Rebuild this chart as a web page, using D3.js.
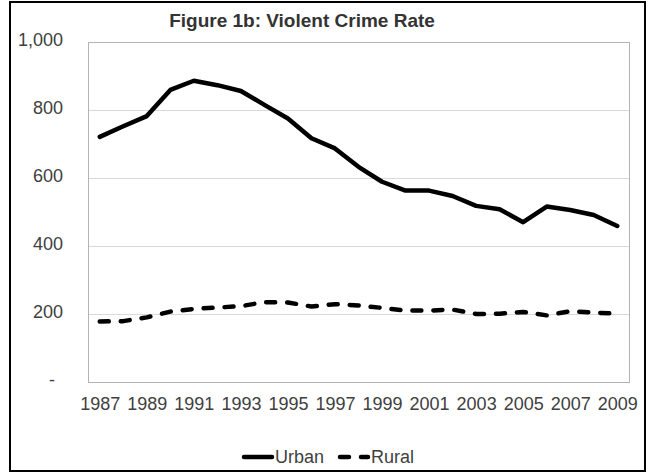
<!DOCTYPE html>
<html>
<head>
<meta charset="utf-8">
<script src="https://cdn.jsdelivr.net/npm/d3@7"></script>
<style>
  html, body { margin: 0; padding: 0; background: #fff; }
  svg { display: block; }
  text { font-family: "Liberation Sans", Arial, sans-serif; }
</style>
</head>
<body>
<svg id="chart" width="648" height="476"></svg>
<script>
// Violent crime rate per 100,000, urban vs rural counties
const years = [1987, 1988, 1989, 1990, 1991, 1992, 1993, 1994, 1995, 1996, 1997, 1998,
               1999, 2000, 2001, 2002, 2003, 2004, 2005, 2006, 2007, 2008, 2009];
const urban = [721, 752, 782, 859, 886, 873, 856, 815, 775, 717, 687, 633,
               589, 563, 563, 547, 518, 508, 470, 516, 506, 491, 459];
const rural = [178, 179, 190, 207, 215, 219, 223, 235, 234, 222, 229, 225,
               218, 210, 210, 213, 200, 201, 206, 196, 208, 204, 201];
const xTickYears = [1987, 1989, 1991, 1993, 1995, 1997, 1999, 2001, 2003, 2005, 2007, 2009];
const yTicks = [0, 200, 400, 600, 800, 1000];
const seriesNames = ["Urban", "Rural"];

const svg = d3.select("#chart");
const plot = { left: 88, right: 629, top: 42, bottom: 382 };

const x = d3.scalePoint().domain(years).range([plot.left, plot.right]).padding(0.5);
const y = d3.scaleLinear().domain([0, 1000]).range([plot.bottom, plot.top]);

// outer chart frame
svg.append("rect")
  .attr("x", 10).attr("y", 2).attr("width", 635).attr("height", 469)
  .attr("fill", "#fff").attr("stroke", "#000").attr("stroke-width", 2);

// horizontal gridlines
svg.append("g")
  .selectAll("line")
  .data(yTicks.filter(d => d > 0 && d < 1000))
  .join("line")
  .attr("x1", plot.left).attr("x2", plot.right)
  .attr("y1", d => Math.round(y(d)) + 0.5).attr("y2", d => Math.round(y(d)) + 0.5)
  .attr("stroke", "#d9d9d9").attr("stroke-width", 1);

// plot area border
svg.append("rect")
  .attr("x", plot.left + 0.5).attr("y", plot.top + 0.5)
  .attr("width", plot.right - plot.left).attr("height", plot.bottom - plot.top)
  .attr("fill", "none").attr("stroke", "#b3b3b3").attr("stroke-width", 1);

// y axis labels
const fmt = d3.format(",");
const yAxis = d3.axisLeft(y).tickValues(yTicks).tickSize(0).tickPadding(0)
  .tickFormat(d => d === 0 ? "-" : fmt(d));
const gy = svg.append("g").attr("transform", `translate(63,-2)`).call(yAxis);
gy.select(".domain").remove();
gy.selectAll("text")
  .attr("font-size", 18).attr("fill", "#404040")
  .attr("font-family", "'Liberation Sans', Arial, sans-serif")
  .attr("dx", d => d === 0 ? -8 : 0);

// x axis labels
const xAxis = d3.axisBottom(x).tickValues(xTickYears).tickSize(0).tickPadding(0);
const gx = svg.append("g").attr("transform", `translate(0,${plot.bottom + 15})`).call(xAxis);
gx.select(".domain").remove();
gx.selectAll("text")
  .attr("font-size", 18).attr("fill", "#404040")
  .attr("font-family", "'Liberation Sans', Arial, sans-serif");

// series lines
const line = d3.line().x((d, i) => x(years[i])).y(d => y(d));
svg.append("path").datum(urban)
  .attr("d", line).attr("fill", "none").attr("stroke", "#000")
  .attr("stroke-width", 4.5).attr("stroke-linejoin", "round").attr("stroke-linecap", "round");
svg.append("path").datum(rural)
  .attr("d", line).attr("fill", "none").attr("stroke", "#000")
  .attr("stroke-width", 4.5).attr("stroke-linejoin", "round").attr("stroke-linecap", "round")
  .attr("stroke-dasharray", "9,12");

// title
svg.append("text")
  .attr("x", 302).attr("y", 27)
  .attr("text-anchor", "middle")
  .attr("font-size", 19).attr("font-weight", "bold").attr("fill", "#333")
  .text("Figure 1b: Violent Crime Rate");

// legend
const legend = svg.append("g").attr("transform", "translate(0,457)");
const legendItems = [
  { name: seriesNames[0], x0: 244, dash: null },
  { name: seriesNames[1], x0: 340, dash: "9,12" }
];
legendItems.forEach(item => {
  legend.append("line")
    .attr("x1", item.x0).attr("x2", item.x0 + 28).attr("y1", 0).attr("y2", 0)
    .attr("stroke", "#000").attr("stroke-width", 4.5).attr("stroke-linecap", "round")
    .attr("stroke-dasharray", item.dash);
  legend.append("text")
    .attr("x", item.x0 + 31).attr("y", 0).attr("dy", "0.35em")
    .attr("font-size", 18).attr("fill", "#404040")
    .text(item.name);
});
</script>
</body>
</html>
